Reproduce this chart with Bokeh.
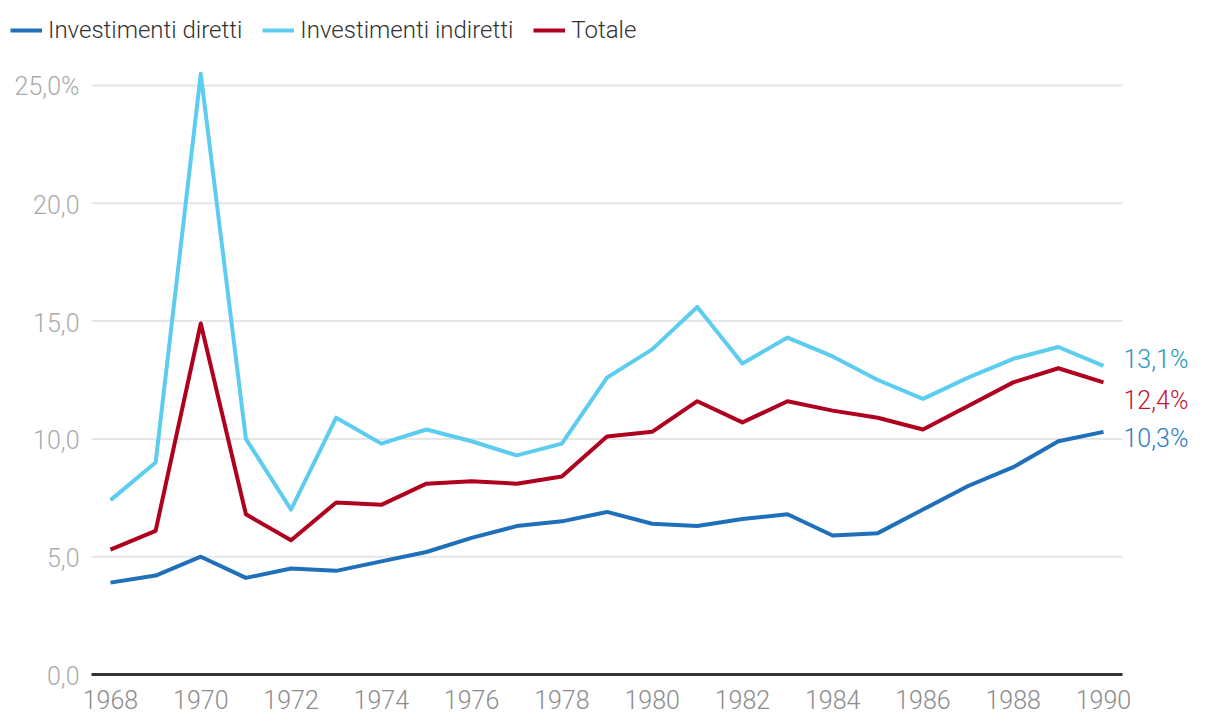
from bokeh.plotting import figure
from bokeh.models import ColumnDataSource, Legend, LegendItem, FixedTicker, Range1d
from bokeh.embed import file_html
from bokeh.resources import INLINE
from bokeh.core.properties import value

years = list(range(1968, 1991))
diretti = [3.9, 4.2, 5.0, 4.1, 4.5, 4.4, 4.8, 5.2, 5.8, 6.3, 6.5, 6.9, 6.4, 6.3, 6.6, 6.8, 5.9, 6.0, 7.0, 8.0, 8.8, 9.9, 10.3]
indiretti = [7.4, 9.0, 25.5, 10.0, 7.0, 10.9, 9.8, 10.4, 9.9, 9.3, 9.8, 12.6, 13.8, 15.6, 13.2, 14.3, 13.5, 12.5, 11.7, 12.6, 13.4, 13.9, 13.1]
totale = [5.3, 6.1, 14.9, 6.8, 5.7, 7.3, 7.2, 8.1, 8.2, 8.1, 8.4, 10.1, 10.3, 11.6, 10.7, 11.6, 11.2, 10.9, 10.4, 11.4, 12.4, 13.0, 12.4]
series_names = ["Investimenti diretti", "Investimenti indiretti", "Totale"]
end_labels = ["10,3%", "13,1%", "12,4%"]
y_ticks = [0, 5, 10, 15, 20, 25]
y_tick_labels = ["0,0", "5,0", "10,0", "15,0", "20,0", "25,0%"]
x_ticks = list(range(1968, 1991, 2))

FONT = "Roboto Light"
line_colors = ["#1f6fb9", "#5ccdee", "#b0001f"]
label_colors = ["#2a7bc4", "#2596bd", "#c0142f"]

X0, X1 = 1965.563, 1992.415
GRID_START, GRID_END = 1967.579, 1990.421
p = figure(width=1212, height=720, output_backend="svg", toolbar_location=None,
           x_range=Range1d(X0, X1), y_range=Range1d(-0.679, 28.608),
           min_border_left=0, min_border_right=0, min_border_top=0, min_border_bottom=30)
p.outline_line_color = None
p.background_fill_color = "white"
p.border_fill_color = "white"
p.yaxis.visible = False

# horizontal gridlines and baseline, limited to the data area
p.segment(x0=[GRID_START] * (len(y_ticks) - 1), x1=[GRID_END] * (len(y_ticks) - 1),
          y0=y_ticks[1:], y1=y_ticks[1:], line_color="#e6e6e6", line_width=2)
p.segment(x0=[GRID_START], x1=[GRID_END], y0=[0], y1=[0], line_color="#333333", line_width=3)

# y tick labels
p.text(x=[X0] * len(y_ticks), y=y_ticks, text=y_tick_labels, text_color="#aaaaaa",
       text_font=value(FONT), text_font_size="25px", text_baseline="middle",
       text_align="right", x_offset=79, y_offset=1)

src = ColumnDataSource(dict(x=years, d=diretti, i=indiretti, t=totale))
r1 = p.line("x", "d", source=src, line_color=line_colors[0], line_width=4, line_join="round")
r2 = p.line("x", "i", source=src, line_color=line_colors[1], line_width=4, line_join="round")
r3 = p.line("x", "t", source=src, line_color=line_colors[2], line_width=4, line_join="round")

# end labels
last_vals = [diretti[-1], indiretti[-1], totale[-1]]
lab_src = ColumnDataSource(dict(x=[years[-1]] * 3, y=last_vals, text=end_labels,
                                c=label_colors, yo=[7, -6, 18]))
p.text("x", "y", text="text", source=lab_src, text_color="c", text_font=value(FONT),
       text_font_size="25px", text_baseline="middle", text_align="left", x_offset=20, y_offset="yo")

# x axis
p.xaxis.ticker = FixedTicker(ticks=x_ticks)
p.xaxis.axis_line_color = None
p.xaxis.major_tick_line_color = None
p.xaxis.minor_tick_line_color = None
p.xaxis.major_tick_in = 0
p.xaxis.major_tick_out = 0
p.xaxis.major_label_text_font = FONT
p.xaxis.major_label_text_font_size = "25px"
p.xaxis.major_label_text_color = "#8c8c8c"
p.xaxis.major_label_standoff = -1

p.xgrid.grid_line_color = None
p.ygrid.grid_line_color = None

legend = Legend(items=[LegendItem(label=series_names[0], renderers=[r1]),
                       LegendItem(label=series_names[1], renderers=[r2]),
                       LegendItem(label=series_names[2], renderers=[r3])],
                orientation="horizontal", location=(10, 646),
                label_text_font=FONT, label_text_font_size="24px", label_text_color="#333333",
                glyph_width=32, glyph_height=20, label_standoff=6, spacing=20,
                padding=0, margin=0, border_line_color=None, background_fill_alpha=0)
p.add_layout(legend, "center")

open("out.html", "w").write(file_html(p, INLINE))
